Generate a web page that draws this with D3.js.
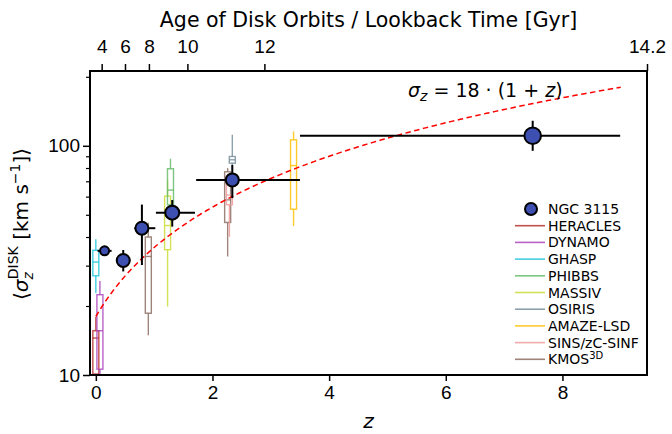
<!DOCTYPE html>
<html>
<head>
<meta charset="utf-8">
<script src="https://cdn.jsdelivr.net/npm/d3@7"></script>
<style>
  html, body { margin: 0; padding: 0; background: #fff; }
  svg { display: block; font-family: "DejaVu Sans", sans-serif; }
</style>
</head>
<body>
<svg id="chart" width="672" height="434"></svg>
<script>
// NGC 3115 disk dispersion measurements
const ngcZ = [0.15, 0.47, 0.79, 1.31, 2.34, 7.49];
const ngcSigma = [34.8, 31.6, 43.7, 51.1, 71.0, 110.6];
const ngcSigmaErrLo = [1.0, 3.3, 13.5, 6.7, 11.9, 15.5];
const ngcSigmaErrHi = [1.0, 3.5, 11.7, 6.9, 11.5, 18.0];
const ngcZErrLo = [0.12, 0.11, 0.13, 0.28, 0.62, 3.99];
const ngcZErrHi = [0.12, 0.12, 0.23, 0.39, 1.16, 1.50];
const ngcMarkerR = [4.5, 6.5, 6.5, 7, 6.5, 8.3];

// Literature survey distributions (whisker low, Q1, median, Q3, whisker high)
const surveyNames = ["HERACLES", "DYNAMO", "GHASP", "PHIBBS", "MASSIV", "OSIRIS", "AMAZE-LSD", "SINS/zC-SINF", "KMOS3D"];
const surveyColors = ["#b5332e", "#ab47bc", "#26c6da", "#66bb6a", "#cddc39", "#78909c", "#ffc107", "#ef9a9a", "#8d6e63"];
const boxSurvey = ["HERACLES", "DYNAMO", "GHASP", "KMOS3D", "MASSIV", "PHIBBS", "KMOS3D", "SINS/zC-SINF", "OSIRIS", "AMAZE-LSD"];
const boxZ      = [0.00, 0.07, 0.00, 0.90, 1.23, 1.28, 2.26, 2.29, 2.34, 3.39];
const boxLo     = [9.0, 9.5, 22.8, 14.9, 19.9, 51.7, 32.9, 40.1, 78.6, 44.7];
const boxQ1     = [10.1, 10.6, 27.1, 18.6, 35.2, 55.3, 46.3, 55.3, 84.0, 52.9];
const boxMed    = [14.5, 15.6, 31.1, 32.9, 44.9, 64.1, 58.1, 61.0, 86.9, 82.0];
const boxQ3     = [15.6, 22.4, 35.0, 40.0, 60.3, 79.4, 77.0, 68.4, 89.8, 106.2];
const boxHi     = [17.9, 25.7, 39.1, 46.2, 71.0, 87.8, 79.9, 72.3, 111.7, 115.5];

// Axis ticks
const zTicks = [0, 2, 4, 6, 8];
const sigmaMajorTicks = [10, 100];
const sigmaMinorTicks = [20, 30, 40, 50, 60, 70, 80, 90, 200];
const ageTickZ = [0.10, 0.50, 0.91, 1.57, 2.89, 9.45];
const ageTickLabels = ["4", "6", "8", "10", "12", "14.2"];

// Model: sigma_z = 18 (1 + z)
const modelNorm = 18;
const modelZMax = 9;

(function draw() {
  const svg = d3.select("#chart");
  const pL = 90, pR = 647, pT = 71, pB = 375;
  const tickFont = 19;

  const x = d3.scaleLinear().domain([-0.1, 9.45]).range([pL, pR]);
  const y = d3.scaleLog().domain([10, 212]).range([pB, pT]);

  svg.append("defs").append("clipPath").attr("id", "plotClip")
    .append("rect").attr("x", pL).attr("y", pT)
    .attr("width", pR - pL).attr("height", pB - pT);

  const plot = svg.append("g").attr("clip-path", "url(#plotClip)");
  const colorOf = d3.scaleOrdinal().domain(surveyNames).range(surveyColors);

  // Box plots
  const boxes = boxZ.map((z, i) => ({
    z, name: boxSurvey[i], lo: boxLo[i], q1: boxQ1[i], med: boxMed[i], q3: boxQ3[i], hi: boxHi[i]
  }));
  const halfW = 3;
  const bg = plot.append("g").attr("fill", "none").attr("stroke-width", 1.4).attr("stroke-opacity", 0.85);
  boxes.forEach(b => {
    const c = colorOf(b.name);
    const cx = x(b.z);
    const g = bg.append("g").attr("stroke", c);
    g.append("line").attr("x1", cx).attr("x2", cx).attr("y1", y(b.lo)).attr("y2", y(b.q1));
    g.append("line").attr("x1", cx).attr("x2", cx).attr("y1", y(b.q3)).attr("y2", y(b.hi));
    g.append("rect").attr("x", cx - halfW).attr("width", 2 * halfW)
      .attr("y", y(b.q3)).attr("height", y(b.q1) - y(b.q3));
    g.append("line").attr("x1", cx - halfW).attr("x2", cx + halfW)
      .attr("y1", y(b.med)).attr("y2", y(b.med));
  });

  // Model curve
  const modelZ = d3.range(0, modelZMax + 0.001, 0.05);
  plot.append("path")
    .datum(modelZ)
    .attr("fill", "none").attr("stroke", "#ff0000").attr("stroke-width", 1.5)
    .attr("stroke-dasharray", "5.5,3.5")
    .attr("d", d3.line().x(z => x(z)).y(z => y(modelNorm * (1 + z))));

  // NGC 3115 error bars and markers
  const ngc = ngcZ.map((z, i) => ({
    z, s: ngcSigma[i], sLo: ngcSigmaErrLo[i], sHi: ngcSigmaErrHi[i],
    zLo: ngcZErrLo[i], zHi: ngcZErrHi[i], r: ngcMarkerR[i]
  }));
  const eg = plot.append("g").attr("stroke", "#000").attr("stroke-width", 2);
  ngc.forEach(d => {
    eg.append("line").attr("x1", x(d.z - d.zLo)).attr("x2", x(d.z + d.zHi))
      .attr("y1", y(d.s)).attr("y2", y(d.s));
    eg.append("line").attr("x1", x(d.z)).attr("x2", x(d.z))
      .attr("y1", y(d.s - d.sLo)).attr("y2", y(d.s + d.sHi));
  });
  plot.append("g").selectAll("circle").data(ngc).join("circle")
    .attr("cx", d => x(d.z)).attr("cy", d => y(d.s)).attr("r", d => d.r)
    .attr("fill", "#3d4fb0").attr("stroke", "#000").attr("stroke-width", 2);

  // Frame
  svg.append("rect").attr("x", pL).attr("y", pT)
    .attr("width", pR - pL).attr("height", pB - pT)
    .attr("fill", "none").attr("stroke", "#000").attr("stroke-width", 2);

  // Bottom axis
  const bAxis = svg.append("g").attr("transform", `translate(0,${pB})`)
    .call(d3.axisBottom(x).tickValues(zTicks).tickFormat(d3.format("d")).tickSize(6).tickPadding(5));
  bAxis.select(".domain").remove();
  bAxis.selectAll("line").attr("stroke-width", 1.5);
  bAxis.selectAll("text").attr("font-size", tickFont).attr("fill", "#000");

  svg.append("text").attr("x", (pL + pR) / 2).attr("y", 428)
    .attr("text-anchor", "middle").attr("font-size", 20).attr("font-style", "italic").text("z");

  // Left axis (log)
  const lAxis = svg.append("g").attr("transform", `translate(${pL},0)`)
    .call(d3.axisLeft(y).tickValues(sigmaMajorTicks).tickFormat(d3.format("d")).tickSize(7).tickPadding(3));
  lAxis.select(".domain").remove();
  lAxis.selectAll("line").attr("stroke-width", 1.5);
  lAxis.selectAll("text").attr("font-size", tickFont).attr("fill", "#000");
  const lMinor = svg.append("g").attr("transform", `translate(${pL},0)`)
    .call(d3.axisLeft(y).tickValues(sigmaMinorTicks).tickFormat("").tickSize(4));
  lMinor.select(".domain").remove();
  lMinor.selectAll("line").attr("stroke-width", 1.2);

  // Y axis title
  const yt = svg.append("text")
    .attr("transform", `translate(28,${(pT + pB) / 2 + 1}) rotate(-90)`)
    .attr("text-anchor", "middle").attr("font-size", 20);
  yt.append("tspan").text("⟨");
  yt.append("tspan").attr("font-style", "italic").text("σ");
  yt.append("tspan").attr("font-style", "italic").attr("font-size", 14).attr("dy", 5).text("z");
  yt.append("tspan").attr("font-size", 14).attr("dx", -7).attr("dy", -15).text("DISK");
  yt.append("tspan").attr("dy", 10).text(" [km s");
  yt.append("tspan").attr("font-size", 14).attr("dy", -8).text("−1");
  yt.append("tspan").attr("dy", 8).text("]⟩");

  // Top axis (age / lookback time)
  const tAxis = svg.append("g").attr("transform", `translate(0,${pT})`)
    .call(d3.axisTop(x).tickValues(ageTickZ)
      .tickFormat((d, i) => ageTickLabels[i]).tickSize(7).tickPadding(11));
  tAxis.select(".domain").remove();
  tAxis.selectAll("line").attr("stroke-width", 1.5);
  tAxis.selectAll("text").attr("font-size", tickFont).attr("fill", "#000");

  svg.append("text").attr("x", (pL + pR) / 2).attr("y", 27)
    .attr("text-anchor", "middle").attr("font-size", 20.5)
    .text("Age of Disk Orbits / Lookback Time [Gyr]");

  // Model label
  const ft = svg.append("text").attr("x", 408).attr("y", 97).attr("font-size", 19);
  ft.append("tspan").attr("font-style", "italic").text("σ");
  ft.append("tspan").attr("font-style", "italic").attr("font-size", 14).attr("dy", 4).text("z");
  ft.append("tspan").attr("dy", -4).text(" = 18 · (1 + ");
  ft.append("tspan").attr("font-style", "italic").text("z");
  ft.append("tspan").text(")");

  // Legend
  const lg = svg.append("g").attr("font-size", 14);
  const rowH = 16.7, lgTop = 209;
  lg.append("circle").attr("cx", 531).attr("cy", lgTop).attr("r", 6)
    .attr("fill", "#3d4fb0").attr("stroke", "#000").attr("stroke-width", 2);
  lg.append("text").attr("x", 548).attr("y", lgTop + 5).text("NGC 3115");
  surveyNames.forEach((name, i) => {
    const yy = lgTop + rowH * (i + 1);
    lg.append("line").attr("x1", 515).attr("x2", 545).attr("y1", yy).attr("y2", yy)
      .attr("stroke", colorOf(name)).attr("stroke-width", 1.6).attr("stroke-opacity", 0.85);
    const t = lg.append("text").attr("x", 548).attr("y", yy + 5);
    if (name === "KMOS3D") {
      t.append("tspan").text("KMOS");
      t.append("tspan").attr("font-size", 10).attr("dy", -5).text("3D");
    } else {
      t.text(name);
    }
  });
})();
</script>
</body>
</html>
